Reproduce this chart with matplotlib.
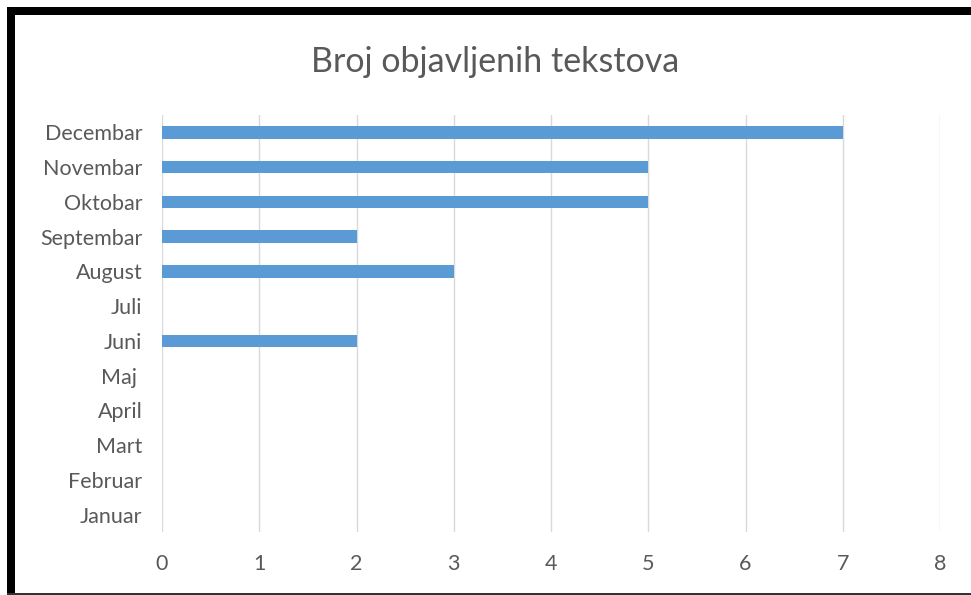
import matplotlib.pyplot as plt
from matplotlib.patches import Rectangle

months = ['Januar', 'Februar', 'Mart', 'April', 'Maj ', 'Juni', 'Juli',
          'August', 'Septembar', 'Oktobar', 'Novembar', 'Decembar']
counts = [0, 0, 0, 0, 0, 2, 0, 3, 2, 5, 5, 7]
x_ticks = [0, 1, 2, 3, 4, 5, 6, 7, 8]
title = 'Broj objavljenih tekstova'

plt.rcParams['font.family'] = ['Lato', 'DejaVu Sans']
W, H = 971, 595
fig = plt.figure(figsize=(W / 100, H / 100), dpi=100)
ax = fig.add_axes([162 / W, 1 - 532 / H, (940 - 162) / W, (532 - 115) / H])

ax.barh(range(len(months)), counts, height=0.36, color='#5B9BD5', zorder=3)
ax.set_xlim(0, 8)
ax.set_ylim(-0.5, len(months) - 0.5)
ax.set_xticks(x_ticks)
ax.set_yticks(range(len(months)))
ax.set_yticklabels(months)
ax.grid(axis='x', color='#D9D9D9', linewidth=1.0, zorder=0)
for s in ax.spines.values():
    s.set_visible(False)
ax.tick_params(length=0, labelsize=15.5, colors='#595959')
ax.tick_params(axis='x', pad=16)
ax.tick_params(axis='y', pad=14)

fig.text(495 / W, 1 - 62 / H, title, ha='center', va='center',
         fontsize=24.5, color='#595959')

# frame around the screenshot
fig.add_artist(Rectangle((7 / W, 0), 8 / W, 1 - 7 / H, transform=fig.transFigure,
                         color='black', lw=0))
fig.add_artist(Rectangle((7 / W, 1 - 15 / H), 1, 8 / H, transform=fig.transFigure,
                         color='black', lw=0))
fig.add_artist(Rectangle((7 / W, 0), 1, 2 / H, transform=fig.transFigure,
                         color='#333333', lw=0))

fig.savefig('out.png', dpi=100)
